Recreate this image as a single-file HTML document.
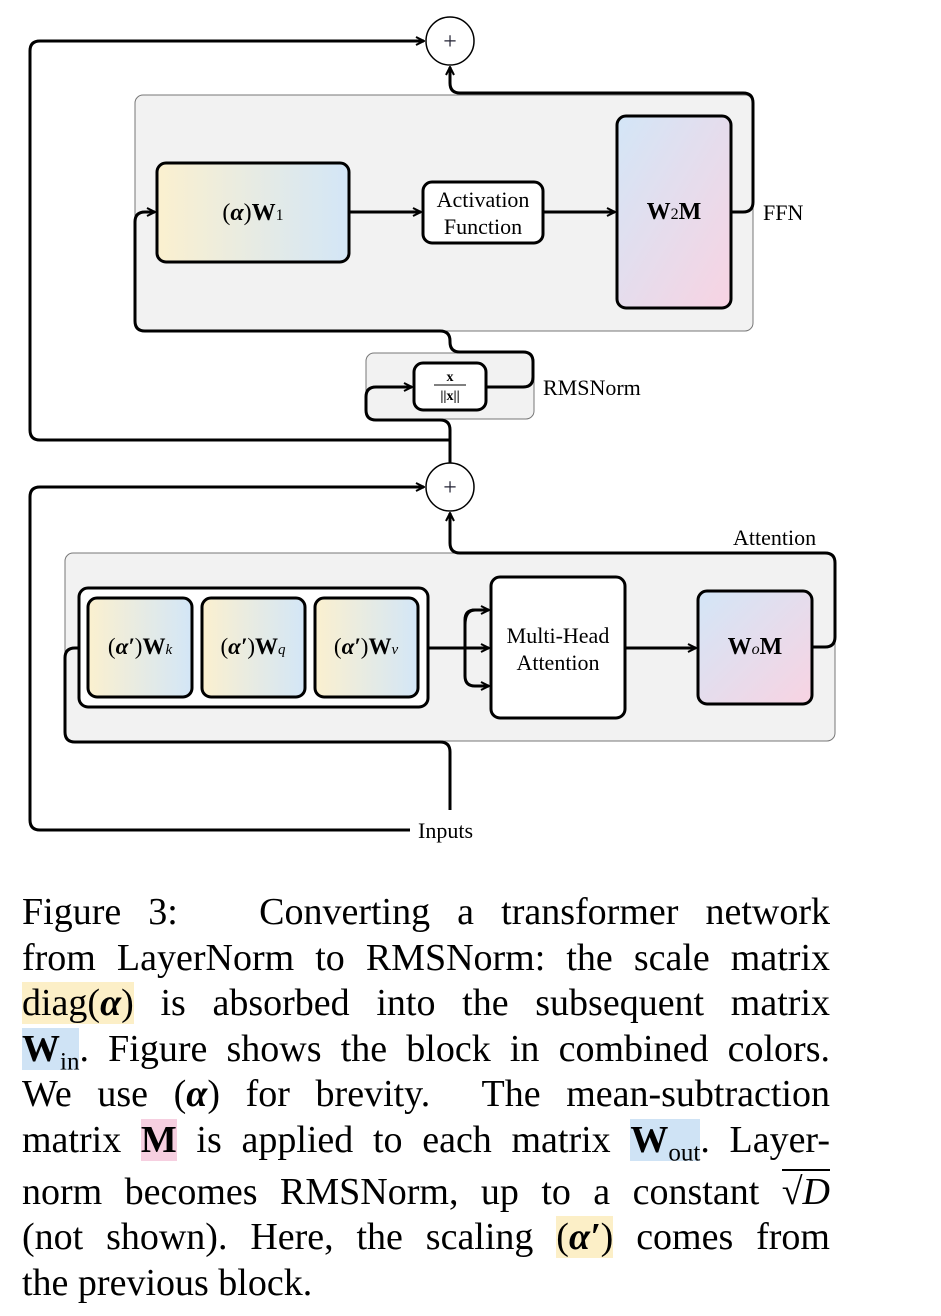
<!DOCTYPE html>
<html><head><meta charset="utf-8"><style>
body{margin:0;background:#fff;width:941px;height:1316px;position:relative;overflow:hidden;font-family:"Liberation Serif",serif}
.l{position:absolute;left:22px;width:808px;font-size:38px;line-height:44px;text-align:justify;text-align-last:justify;white-space:nowrap}
.y{background:#fcefc7}.b{background:#cfe3f5}.p{background:#f6cfe0}
b{font-weight:bold}
</style></head><body>
<svg width="941" height="860" style="position:absolute;left:0;top:0" font-family="Liberation Serif, serif">
<defs>
<linearGradient id="g1" x1="0" x2="1" y1="0" y2="0"><stop offset="0" stop-color="#fbf0cf"/><stop offset="1" stop-color="#d3e6f7"/></linearGradient>
<linearGradient id="g2" x1="0" x2="1" y1="0" y2="1"><stop offset="0" stop-color="#d3e6f7"/><stop offset="1" stop-color="#f8d3e2"/></linearGradient>
<marker id="a" markerWidth="10" markerHeight="10" refX="9" refY="5" orient="auto" markerUnits="userSpaceOnUse"><path d="M1,1 L9,5 L1,9" fill="none" stroke="#000" stroke-width="2"/></marker>
</defs>
<g fill="#f2f2f2" stroke="#777" stroke-width="1">
<rect x="135" y="95" width="618" height="236" rx="8"/>
<rect x="366" y="353" width="168" height="66" rx="8"/>
<rect x="65" y="553" width="770" height="188" rx="8"/>
</g>
<g fill="none" stroke="#000" stroke-width="3" stroke-linejoin="round">
<path d="M450,440 H40 Q30,440 30,430 V51 Q30,41 40,41 H424" marker-end="url(#a)"/>
<path d="M731,212 H743 Q753,212 753,202 V103 Q753,93 743,93 H460 Q450,93 450,83 V67" marker-end="url(#a)"/>
<path d="M486,387 H523 Q533,387 533,377 V362 Q533,352 523,352 H460 Q450,352 450,342 V341 Q450,331 440,331 H145 Q135,331 135,321 V222 Q135,212 145,212 H155" marker-end="url(#a)"/>
<path d="M450,463 V430 Q450,420 440,420 H376 Q366,420 366,410 V397 Q366,387 376,387 H412" marker-end="url(#a)"/>
<path d="M349,212 H421" marker-end="url(#a)"/>
<path d="M543,212 H615" marker-end="url(#a)"/>
<path d="M410,830 H40 Q30,830 30,820 V497 Q30,487 40,487 H424" marker-end="url(#a)"/>
<path d="M450,810 V752 Q450,742 440,742 H75 Q65,742 65,732 V658 Q65,648 75,648 H86" marker-end="url(#a)"/>
<path d="M812,647 H825 Q835,647 835,637 V563 Q835,553 825,553 H460 Q450,553 450,543 V513" marker-end="url(#a)"/>
<path d="M428,648 H489" marker-end="url(#a)"/>
<path d="M475,610 Q465,610 465,620 V676 Q465,686 475,686 H489" marker-end="url(#a)"/>
<path d="M465,625 Q465,610 475,610 H489" marker-end="url(#a)"/>
<path d="M625,648 H696" marker-end="url(#a)"/>
</g>
<g stroke="#000" stroke-width="3">
<rect x="157" y="163" width="192" height="99" rx="9" fill="url(#g1)"/>
<rect x="423" y="182" width="120" height="61" rx="9" fill="#fff"/>
<rect x="617" y="116" width="114" height="192" rx="9" fill="url(#g2)"/>
<rect x="414" y="363" width="72" height="47" rx="9" fill="#fff"/>
<rect x="79" y="588" width="349" height="119" rx="9" fill="#fff"/>
<rect x="88" y="598" width="104" height="99" rx="9" fill="url(#g1)"/>
<rect x="202" y="598" width="103" height="99" rx="9" fill="url(#g1)"/>
<rect x="315" y="598" width="103" height="99" rx="9" fill="url(#g1)"/>
<rect x="491" y="577" width="134" height="141" rx="9" fill="#fff"/>
<rect x="698" y="591" width="114" height="113" rx="9" fill="url(#g2)"/>
</g>
<g fill="#fff" stroke="#000" stroke-width="1.5">
<circle cx="450" cy="41" r="24"/><circle cx="450" cy="487" r="24"/>
</g>
<g font-size="24" fill="#000">
<text x="450" y="49" text-anchor="middle" fill="#223">+</text>
<text x="450" y="495" text-anchor="middle" fill="#223">+</text>
<text x="253" y="220" text-anchor="middle">(<tspan font-style="italic" font-weight="bold">α</tspan>)<tspan font-weight="bold">W</tspan><tspan font-size="16">1</tspan></text>
<text x="483" y="207" text-anchor="middle" font-size="22">Activation</text>
<text x="483" y="234" text-anchor="middle" font-size="22">Function</text>
<text x="674" y="219" text-anchor="middle" font-weight="bold">W<tspan font-size="16" font-weight="normal">2</tspan>M</text>
<text x="763" y="220" font-size="22">FFN</text>
<text x="450" y="381" text-anchor="middle" font-size="14" font-weight="bold">x</text>
<line x1="434" y1="385" x2="466" y2="385" stroke="#000" stroke-width="1"/>
<text x="450" y="400" text-anchor="middle" font-size="14" font-weight="bold">||x||</text>
<text x="543" y="395" font-size="22">RMSNorm</text>
<text x="733" y="545" font-size="22">Attention</text>
<text x="140" y="654" text-anchor="middle" font-size="23">(<tspan font-style="italic" font-weight="bold">α′</tspan>)<tspan font-weight="bold">W</tspan><tspan font-size="15" font-style="italic">k</tspan></text>
<text x="253" y="654" text-anchor="middle" font-size="23">(<tspan font-style="italic" font-weight="bold">α′</tspan>)<tspan font-weight="bold">W</tspan><tspan font-size="15" font-style="italic">q</tspan></text>
<text x="366" y="654" text-anchor="middle" font-size="23">(<tspan font-style="italic" font-weight="bold">α′</tspan>)<tspan font-weight="bold">W</tspan><tspan font-size="15" font-style="italic">v</tspan></text>
<text x="558" y="643" text-anchor="middle" font-size="22">Multi-Head</text>
<text x="558" y="670" text-anchor="middle" font-size="22">Attention</text>
<text x="755" y="654" text-anchor="middle" font-weight="bold">W<tspan font-size="16" font-style="italic" font-weight="normal">o</tspan>M</text>
<text x="418" y="838" font-size="22">Inputs</text>
</g>
</svg>
<div class="l" style="top:890px">Figure 3: &nbsp; Converting a transformer network</div>
<div class="l" style="top:936px">from LayerNorm to RMSNorm: the scale matrix</div>
<div class="l" style="top:981px"><span class="y">diag(<b><i>α</i></b>)</span> is absorbed into the subsequent matrix</div>
<div class="l" style="top:1027px"><span class="b"><b>W</b><sub style="font-size:25px">in</sub></span>. Figure shows the block in combined colors.</div>
<div class="l" style="top:1072px">We use (<b><i>α</i></b>) for brevity. &nbsp;The mean-subtraction</div>
<div class="l" style="top:1118px">matrix <span class="p"><b>M</b></span> is applied to each matrix <span class="b"><b>W</b><sub style="font-size:25px">out</sub></span>. Layer-</div>
<div class="l" style="top:1170px">norm becomes RMSNorm, up to a constant <span style="border-top:2px solid #000">√<i>D</i></span></div>
<div class="l" style="top:1215px">(not shown). Here, the scaling <span class="y">(<b><i>α′</i></b>)</span> comes from</div>
<div class="l" style="top:1261px;text-align-last:left">the previous block.</div>
</body></html>
